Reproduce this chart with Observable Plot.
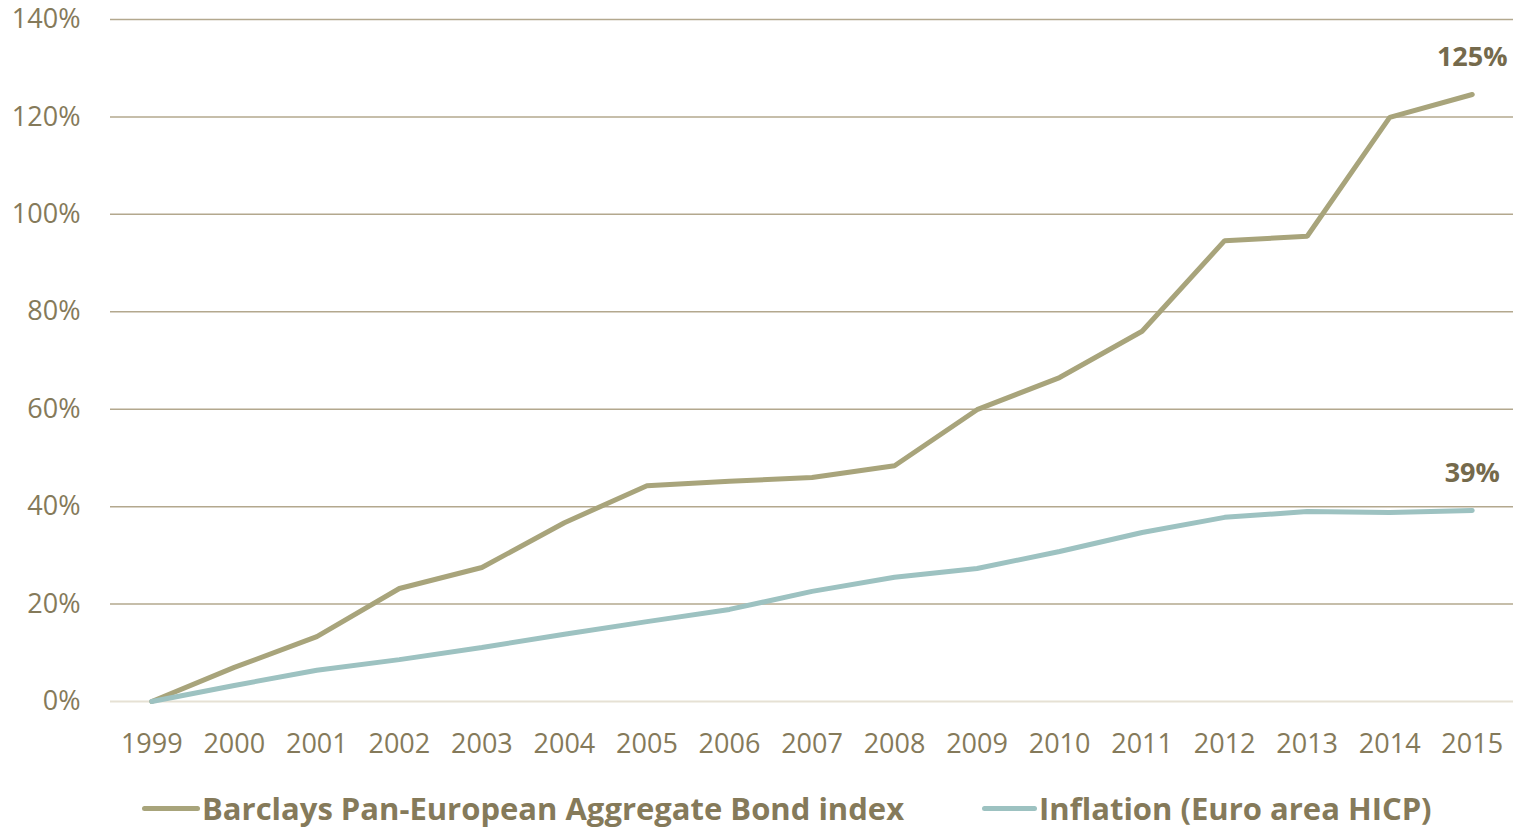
<!DOCTYPE html>
<html>
<head>
<meta charset="utf-8">
<script src="https://cdn.jsdelivr.net/npm/d3@7"></script>
<script src="https://cdn.jsdelivr.net/npm/@observablehq/plot@0.6"></script>
<style>
  html, body { margin: 0; padding: 0; background: #fff; }
  #chart { width: 1513px; }
  .legend { display: flex; justify-content: flex-start; align-items: center; height: 58px; font-family: "Open Sans", sans-serif; font-weight: 700; font-size: 31px; color: #857a5a; white-space: nowrap; }
  .item { display: flex; align-items: center; }
  .sw { display: inline-block; height: 5px; border-radius: 3px; margin-right: 2px; }
</style>
</head>
<body>
<div id="chart"></div>
<script>
const years = [1999,2000,2001,2002,2003,2004,2005,2006,2007,2008,2009,2010,2011,2012,2013,2014,2015];
const bond = [0,7.0,13.3,23.2,27.5,36.7,44.3,45.2,46.0,48.4,59.9,66.5,76.0,94.6,95.5,119.9,124.6];
const inflation = [0,3.3,6.4,8.6,11.1,13.8,16.4,18.9,22.6,25.5,27.3,30.8,34.7,37.8,39.0,38.8,39.2];
const seriesNames = ["Barclays Pan-European Aggregate Bond index", "Inflation (Euro area HICP)"];
const endLabels = ["125%", "39%"];
const yTicks = [0,20,40,60,80,100,120,140];

const colors = ["#a8a47b", "#9dc2c1"];
const textColor = "#857a5a";

const rows = [];
years.forEach((y, i) => {
  rows.push({year: y, value: bond[i], series: seriesNames[0]});
  rows.push({year: y, value: inflation[i], series: seriesNames[1]});
});
const last = years.length - 1;
const ends = [
  {year: years[last], value: bond[last], label: endLabels[0]},
  {year: years[last], value: inflation[last], label: endLabels[1]}
];

const plot = Plot.plot({
  width: 1513,
  height: 779,
  marginLeft: 110,
  marginRight: 0,
  marginTop: 19,
  marginBottom: 78,
  style: {fontFamily: "'Open Sans', sans-serif", fontSize: "27px", color: textColor, background: "#fff", overflow: "visible"},
  x: {domain: [1998.5, 2015.5], label: null},
  y: {domain: [0, 140], label: null},
  marks: [
    Plot.ruleY(yTicks.filter(d => d > 0), {stroke: "#b3a88e", strokeWidth: 1.5}),
    Plot.ruleY([0], {stroke: "#e6e1d4", strokeWidth: 2}),
    Plot.axisX({ticks: years, tickFormat: d => String(d), tickSize: 0, tickPadding: 32, fill: textColor, fontSize: 27}),
    Plot.axisY({ticks: yTicks, tickFormat: d => d + "%", tickSize: 0, tickPadding: 30, fill: textColor, fontSize: 27}),
    Plot.line(rows, {x: "year", y: "value", z: "series", stroke: d => d.series === seriesNames[0] ? colors[0] : colors[1], strokeWidth: 5, strokeLinecap: "round", strokeLinejoin: "miter"}),
    Plot.text(ends, {x: "year", y: "value", text: "label", dy: -37, fill: "#756a4c", fontWeight: 700, fontSize: 27})
  ]
});
document.getElementById("chart").appendChild(plot);

const legend = document.createElement("div");
legend.className = "legend";
const offsets = [142, 78];
seriesNames.forEach((name, i) => {
  const item = document.createElement("div");
  item.className = "item";
  item.style.marginLeft = offsets[i] + "px";
  const sw = document.createElement("span");
  sw.className = "sw";
  sw.style.background = colors[i];
  sw.style.width = (i === 0 ? 58 : 55) + "px";
  item.appendChild(sw);
  const t = document.createElement("span");
  t.textContent = name;
  item.appendChild(t);
  legend.appendChild(item);
});
document.getElementById("chart").appendChild(legend);
</script>
</body>
</html>
